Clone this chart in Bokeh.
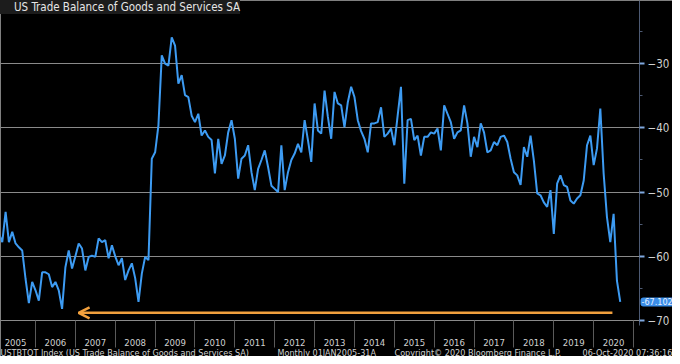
import pandas as pd
from bokeh.plotting import figure
from bokeh.models import (FixedTicker, Label, Arrow, OpenHead, Range1d, Legend, LegendItem)
from bokeh.embed import file_html
from bokeh.resources import INLINE

series_name = "US Trade Balance of Goods and Services SA"
start_month = "2005-01"
end_month = "2020-08"
trade_balance = [
    # 2005
    -56.5, -57.8, -53.1, -57.8, -56.2, -58.0, -58.6, -59.1, -63.5, -67.3, -64.0, -65.3,
    # 2006
    -66.9, -62.5, -62.5, -62.8, -64.8, -64.0, -65.3, -68.2, -61.7, -59.1, -61.9, -60.0,
    # 2007
    -58.0, -58.8, -62.2, -60.1, -59.9, -60.1, -57.2, -57.8, -57.5, -60.3, -58.3, -60.0,
    # 2008
    -61.4, -60.3, -63.7, -62.2, -61.1, -63.4, -67.1, -62.7, -60.1, -60.6, -44.8, -43.8,
    # 2009
    -39.6, -28.7, -30.0, -30.3, -25.9, -27.2, -33.1, -31.8, -34.9, -35.2, -38.1, -39.1,
    # 2010
    -37.8, -41.2, -40.4, -41.4, -41.9, -47.1, -41.7, -45.6, -44.3, -40.7, -38.8, -41.7,
    # 2011
    -47.9, -44.8, -44.3, -42.7, -46.9, -49.7, -46.4, -45.0, -43.5, -46.1, -49.0, -49.5,
    # 2012
    -50.0, -42.7, -49.7, -46.9, -45.0, -44.0, -42.5, -43.8, -38.8, -41.9, -45.3, -36.2,
    # 2013
    -40.4, -40.9, -34.2, -38.3, -41.7, -34.4, -36.2, -36.5, -39.9, -36.0, -33.6, -35.2,
    # 2014
    -38.8, -40.5, -41.7, -43.8, -39.3, -39.3, -39.1, -36.8, -41.4, -40.9, -40.1, -42.7,
    # 2015
    -38.1, -33.6, -48.7, -38.8, -38.6, -41.9, -41.2, -44.3, -41.4, -41.4, -40.7, -40.9,
    # 2016
    -40.1, -43.5, -36.5, -37.8, -39.1, -41.7, -40.7, -40.4, -36.5, -39.3, -44.5, -41.4,
    # 2017
    -43.0, -39.3, -40.7, -43.8, -43.5, -42.2, -42.7, -41.4, -41.2, -42.2, -44.8, -46.9,
    # 2018
    -47.4, -48.9, -43.0, -44.5, -41.2, -45.1, -50.2, -50.5, -51.6, -52.3, -49.7, -56.5,
    # 2019
    -48.7, -47.4, -48.9, -49.2, -51.3, -51.8, -51.0, -50.5, -48.2, -42.7, -41.2, -45.8,
    # 2020
    -43.2, -37.0, -47.1, -53.9, -57.8, -53.4, -63.8, -67.102,
]
years = list(range(2005, 2021))
year_labels = [str(y) for y in years]
y_ticks = [-70, -60, -50, -40, -30]
y_minor_ticks = [-65, -55, -45, -35, -25]
arrow_x = [2020.47, 2007.08]
arrow_y = -68.8
footer_texts = ["USTBTOT Index (US Trade Balance of Goods and Services SA)",
                "Monthly 01JAN2005-31A",
                "Copyright\u00a9 2020 Bloomberg Finance L.P.",
                "06-Oct-2020 07:36:16"]

months = pd.period_range(start_month, end_month, freq="M")
x_vals = [m.year + m.month / 12 for m in months]

BLUE = "#3d9bf2"
ORANGE = "#f2a03d"
GRID = "#8a8a8a"
TXT = "#d0d0d0"
FONT = "'Liberation Sans Narrow', 'DejaVu Sans Condensed', Roboto, sans-serif"

X0, X_AXIS, X1 = 2005.122, 2021.149, 2021.977   # frame left, y-axis position, frame right
Y_TOP, Y_BOTTOM = -20.16, -75.61

p = figure(width=672, height=356, output_backend="svg", toolbar_location=None,
           x_range=Range1d(X0, X1), y_range=Range1d(Y_BOTTOM, Y_TOP),
           y_axis_location="right",
           min_border_left=0, min_border_top=0, min_border_right=0, min_border_bottom=0,
           background_fill_color="black", border_fill_color="black",
           outline_line_color=None)

p.line(x_vals, trade_balance, line_color=BLUE, line_width=2)

# legend swatch
sw = p.quad(left=[], right=[], top=[], bottom=[], fill_color=BLUE, line_color=None)
legend = Legend(items=[LegendItem(label=series_name, renderers=[sw])],
                location="top_left", margin=0, padding=4, spacing=0,
                glyph_width=10, glyph_height=10, label_standoff=4, label_height=14,
                label_text_font_size="11.5px", label_text_color="#e6e6e6",
                label_text_font=FONT,
                background_fill_color="#1c1c1c", background_fill_alpha=1,
                border_line_color=None)
p.add_layout(legend)

# x axis (year strip)
xa = p.xaxis[0]
xa.fixed_location = -70
xa.bounds = (X0, X_AXIS)
xa.ticker = FixedTicker(ticks=[y + 0.5 for y in years], minor_ticks=[y + 1 for y in years])
xa.major_label_overrides = {y + 0.5: lab for y, lab in zip(years, year_labels)}
xa.major_tick_line_color = None
xa.major_tick_out = 0
xa.major_tick_in = 0
xa.major_label_standoff = -8
xa.major_label_text_font_size = "9.5px"
xa.major_label_text_color = TXT
xa.major_label_text_font = FONT
xa.minor_tick_in = 0
xa.minor_tick_out = 27
xa.minor_tick_line_color = "#5a5a5a"
xa.axis_line_color = GRID
p.xgrid.visible = False

# y axis (right)
ya = p.yaxis[0]
ya.fixed_location = X_AXIS
ya.bounds = (-70.8, Y_TOP)
ya.ticker = FixedTicker(ticks=y_ticks, minor_ticks=y_minor_ticks)
ya.major_tick_in = 0
ya.major_tick_out = 5
ya.major_tick_line_width = 2
ya.major_tick_line_color = "#7fa7de"
ya.minor_tick_in = 0
ya.minor_tick_out = 3
ya.minor_tick_line_color = "#4d5a73"
ya.axis_line_color = "#4d5a73"
ya.major_label_text_color = TXT
ya.major_label_text_font_size = "11.5px"
ya.major_label_text_font = FONT
ya.major_label_standoff = 3

grid = p.ygrid[0]
if "cross_bounds" in grid.properties():
    grid.ticker = FixedTicker(ticks=y_ticks)
    grid.grid_line_color = GRID
    grid.grid_line_width = 1
    grid.cross_bounds = (X0, X_AXIS)
else:
    grid.visible = False
    p.segment(x0=[X0] * len(y_ticks), x1=[X_AXIS] * len(y_ticks), y0=y_ticks, y1=y_ticks,
              line_color=GRID, line_width=1, level="underlay")

# arrow
p.add_layout(Arrow(end=OpenHead(size=11, line_color=ORANGE, line_width=2.5),
                   x_start=arrow_x[0], y_start=arrow_y, x_end=arrow_x[1], y_end=arrow_y,
                   line_color=ORANGE, line_width=2.5))

# last value label
p.add_layout(Label(x=X_AXIS, y=trade_balance[-1], x_offset=1,
                   text=f"{trade_balance[-1]:.3f}", text_font_size="9px",
                   text_font=FONT, text_color="#e8f2ff", text_baseline="middle",
                   text_align="left",
                   background_fill_color="#3b8ee8", padding=1, border_radius=3))

# footer
footer_x = [0, 277, 394, 582]
for fx, ft in zip(footer_x, footer_texts):
    p.add_layout(Label(x=fx, y=4, x_units="screen", y_units="screen", text=ft,
                       text_font_size="9px", text_font=FONT, text_color=TXT,
                       text_baseline="alphabetic", text_align="left"))

open("out.html", "w").write(file_html(p, INLINE))
